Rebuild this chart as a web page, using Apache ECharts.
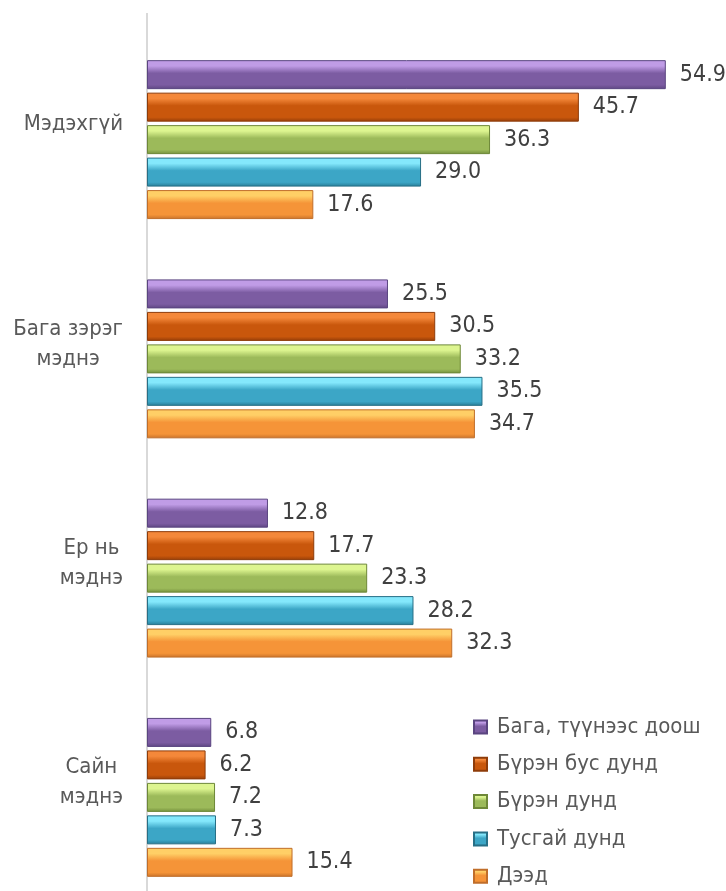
<!DOCTYPE html>
<html>
<head>
<meta charset="utf-8">
<script src="https://cdn.jsdelivr.net/npm/echarts@6/dist/echarts.min.js"></script>
<style>
  html, body { margin: 0; padding: 0; background: #fff; }
  #chart { width: 726px; height: 891px; }
</style>
</head>
<body>
<div id="chart"></div>
<script>
var categories = ['Мэдэхгүй', 'Бага зэрэг\nмэднэ', 'Ер нь\nмэднэ', 'Сайн\nмэднэ'];
var seriesNames = ['Бага, түүнээс доош', 'Бүрэн бус дунд', 'Бүрэн дунд', 'Тусгай дунд', 'Дээд'];
var bagaValues = [54.9, 25.5, 12.8, 6.8];
var burenBusValues = [45.7, 30.5, 17.7, 6.2];
var burenValues = [36.3, 33.2, 23.3, 7.2];
var tusgaiValues = [29.0, 35.5, 28.2, 7.3];
var deedValues = [17.6, 34.7, 32.3, 15.4];

// top / body / bottom / border shades for the bevel look
var palette = [
    ['#C09CE6', '#7C5CA2', '#5E4682', '#5A4580'],
    ['#F4883A', '#C9570C', '#963E08', '#8E3C0A'],
    ['#DDF590', '#9CBA5A', '#74903C', '#6E8838'],
    ['#84E8FC', '#3CA6C6', '#287C96', '#276F86'],
    ['#FFCF66', '#F59438', '#C8722A', '#C06E2A']
];

function grad(c) {
    return new echarts.graphic.LinearGradient(0, 0, 0, 1, [
        { offset: 0, color: c[0] },
        { offset: 0.2, color: c[0] },
        { offset: 0.45, color: c[1] },
        { offset: 0.85, color: c[1] },
        { offset: 1, color: c[2] }
    ]);
}

var valueSets = [bagaValues, burenBusValues, burenValues, tusgaiValues, deedValues];
var font = '"DejaVu Sans Condensed", "DejaVu Sans", sans-serif';

var series = valueSets.map(function (vals, i) {
    return {
        name: seriesNames[i],
        type: 'bar',
        data: vals,
        barWidth: 29,
        barGap: '12%',
        itemStyle: {
            color: grad(palette[i]),
            borderColor: palette[i][3],
            borderWidth: 1
        },
        label: {
            show: true,
            position: 'right',
            distance: 14,
            formatter: function (p) { return p.value.toFixed(1); },
            fontFamily: font,
            fontSize: 23,
            color: '#404040'
        }
    };
});

var chart = echarts.init(document.getElementById('chart'));
chart.setOption({
    animation: false,
    grid: { left: 147, top: 30, width: 567, height: 877, outerBoundsMode: 'none', containLabel: false },
    // the vertical axis line runs a little above the plot area in the original
    graphic: [{
        type: 'line',
        shape: { x1: 147, y1: 13, x2: 147, y2: 891 },
        style: { stroke: '#D9D9D9', lineWidth: 2 },
        z: 0
    }],
    legend: {
        orient: 'vertical',
        left: 473,
        top: 716,
        padding: 0,
        itemWidth: 13,
        itemHeight: 13,
        itemGap: 15.3,
        icon: 'rect',
        textStyle: { fontFamily: font, fontSize: 22, color: '#595959', lineHeight: 22, padding: [0, 0, 0, 5] },
        data: seriesNames
    },
    xAxis: {
        type: 'value',
        min: 0,
        max: 60,
        show: false
    },
    yAxis: {
        type: 'category',
        inverse: true,
        data: categories,
        axisLine: { show: false },
        axisTick: { show: false },
        axisLabel: {
            align: 'right',
            margin: 24,
            padding: [0, 0, 30, 0],
            formatter: function (v) {
                return v.split('\n').map(function (s) { return '{a|' + s + '}'; }).join('\n');
            },
            rich: {
                a: { align: 'center', fontFamily: font, fontSize: 22, lineHeight: 30, color: '#595959' }
            }
        }
    },
    series: series
});
</script>
</body>
</html>
